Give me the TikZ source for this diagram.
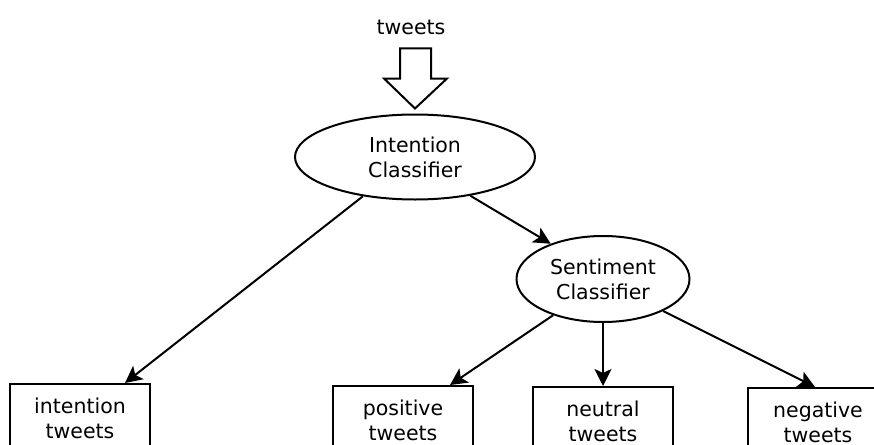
\documentclass[tikz,border=0pt]{standalone}
\usepackage{fontspec}
\setmainfont{DejaVu Sans}
\usetikzlibrary{shapes.geometric,arrows.meta}
\tikzset{
  lbl/.style={font=\fontsize{20.5}{25}\selectfont, align=center},
  clf/.style={lbl, draw, ellipse, line width=2pt, inner sep=0pt,
    minimum width=240pt, minimum height=85pt},
  outbox/.style={lbl, draw, line width=2pt, anchor=north, minimum width=140pt,
    text height=43pt, text depth=30pt, inner ysep=11pt},
  flow/.style={line width=2pt, -{Stealth[length=17pt,width=17pt,inset=4pt]}}
}
\begin{document}
\begin{tikzpicture}[x=1pt,y=-1pt]  % ------ two-stage classifier ------
    \useasboundingbox (0,0) rectangle (874,444);
    \clip (0,0) rectangle (874,444);

    \node[lbl] (tw) at (411,27) {tweets};
    \node[clf] (ic) at (415,157) {Intention\\Classifier};
    \node[clf, minimum width=173pt, minimum height=86pt] (sc) at (603,279) {Sentiment\\Classifier};

    \node[outbox] (itw) at (80,383) {intention\\tweets};
    \node[outbox] (pos) at (403,385) {positive\\tweets};
    \node[outbox] (neu) at (603,386) {neutral\\tweets};
    \node[outbox] (neg) at (818,387) {negative\\tweets};

    % block arrow feeding the first classifier
    \coordinate (tip) at ([yshift=5pt]ic.north);
    \draw[line width=2pt] (tip) -- ++(-31,-30) -- ++(16,0) -- ++(0,-30)
      -- ++(31,0) -- ++(0,30) -- ++(16,0) -- cycle;

    \draw[flow] (ic.217.6) -- ([xshift=45pt]itw.north);
    \draw[flow] (ic.325.6) -- (sc.146);
    \draw[flow] (sc.216.5) -- ([xshift=47pt]pos.north);
    \draw[flow] (sc.south) -- (neu.north);
    \draw[flow] (sc.332.7) -- ([xshift=-3pt]neg.north);
\end{tikzpicture}
\end{document}
